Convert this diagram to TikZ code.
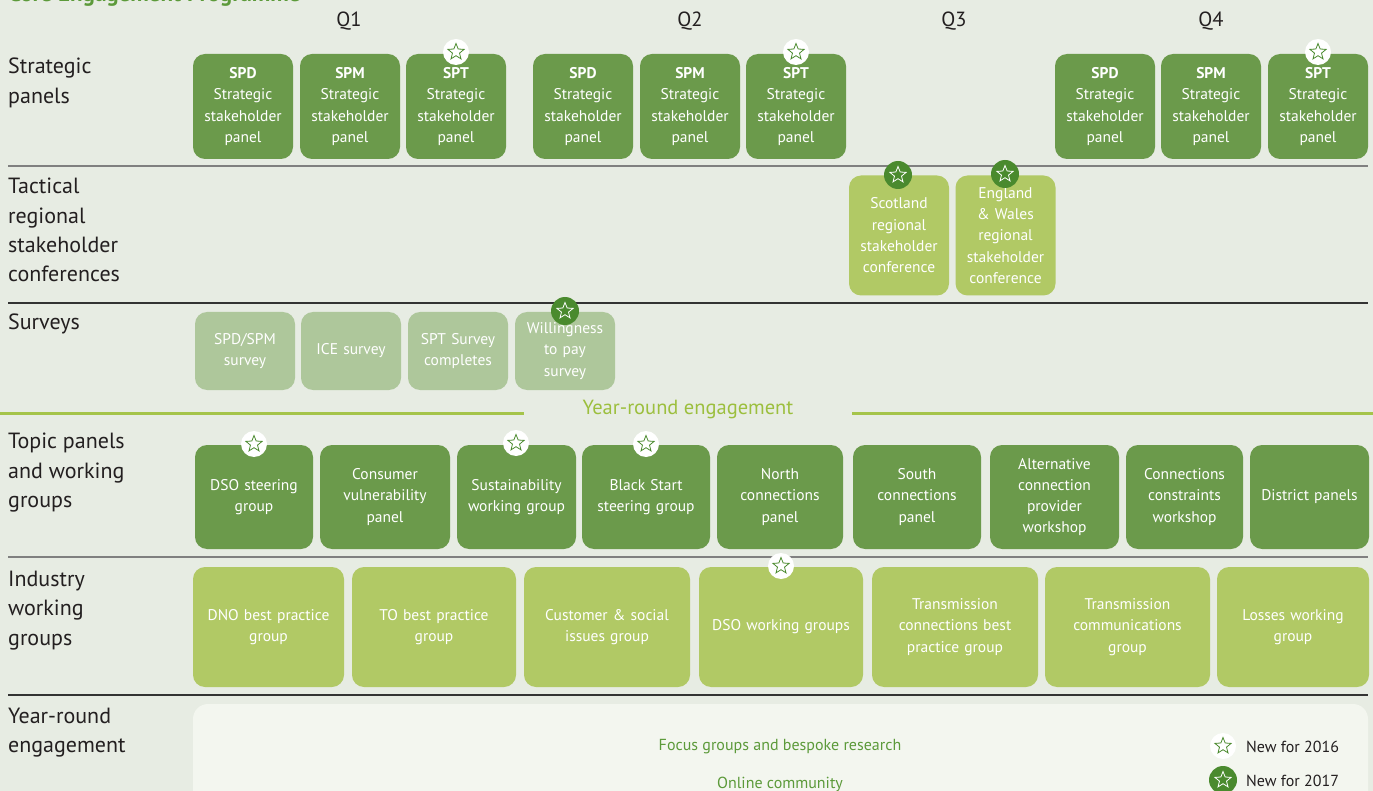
\documentclass[tikz,border=0pt]{standalone}
\usepackage{fontspec}
\setmainfont{PT Sans}
\usepackage{tikz}
\usetikzlibrary{shapes.geometric}
\pgfdeclarelayer{background}
\pgfsetlayers{background,main}
\definecolor{bgcol}{HTML}{E7ECE3}
\definecolor{darkbox}{HTML}{6B9A4B}
\definecolor{limebox}{HTML}{B1C965}
\definecolor{palebox}{HTML}{AEC79B}
\definecolor{stargreen}{HTML}{4A8A2E}
\definecolor{linelime}{HTML}{A5C44A}
\definecolor{limetext}{HTML}{9CBF3E}
\definecolor{textgreen}{HTML}{5C9A3A}
\definecolor{panelcol}{HTML}{F3F6EF}
\definecolor{labeltext}{HTML}{231F20}

\begin{document}
\begin{tikzpicture}[x=1pt,y=1pt,
						boxnode/.style={rounded corners=12pt, text=white, align=center, inner sep=2pt, font=\fontsize{15.5}{21.3}\selectfont},
						stratnode/.style={boxnode, fill=darkbox, text width=96pt, minimum height=105pt},
						tactnode/.style={boxnode, fill=limebox, text width=96pt, minimum height=120pt},
						surveynode/.style={boxnode, fill=palebox, text width=96pt, minimum height=78pt},
						topicnode/.style={boxnode, fill=darkbox, text width=#1, minimum height=104pt},
						industrynode/.style={boxnode, fill=limebox, text width=#1, minimum height=120pt},
						rowlabel/.style={anchor=north west, align=left, inner sep=0pt, text=labeltext, font=\fontsize{22}{29.3}\selectfont},
						qlabel/.style={text=labeltext, font=\fontsize{20.5}{24}\selectfont},
						starwhite/.style={circle, fill=white, minimum size=26pt, inner sep=0pt,
							path picture={\node[star, star points=5, star point ratio=2.3, draw=stargreen, fill=white, line width=0.8pt, minimum size=17pt, inner sep=0pt] at (path picture bounding box.center) {};}},
						stardark/.style={circle, fill=stargreen, minimum size=28pt, inner sep=0pt,
							path picture={\node[star, star points=5, star point ratio=2.3, draw=white, fill=stargreen, line width=0.8pt, minimum size=17pt, inner sep=0pt] at (path picture bounding box.center) {};}},
						greyline/.style={draw=black!50, line width=1.6pt},
						darkline/.style={draw=black!80, line width=1.2pt},
						limeline/.style={draw=linelime, line width=3pt},
						]
						\useasboundingbox (0,0) rectangle (1373,-791);

						%Nodes
						\node[anchor=base west, inner sep=0pt, text=textgreen, font=\fontsize{23}{28}\selectfont\bfseries] (title) at (8,-2) {Core Engagement Programme};
						\node[qlabel]	(q1)	at	(349,-21)	{Q1};
						\node[qlabel]	(q2)	at	(690,-21)	{Q2};
						\node[qlabel]	(q3)	at	(954,-21)	{Q3};
						\node[qlabel]	(q4)	at	(1211,-21)	{Q4};

						\node[rowlabel]	(lstrat)	at	(8,-58)		{Strategic\\panels};
						\node[rowlabel]	(ltact)		at	(8,-178)	{Tactical\\regional\\stakeholder\\conferences};
						\node[rowlabel]	(lsurvey)	at	(8,-314)	{Surveys};
						\node[rowlabel]	(ltopic)	at	(8,-433)	{Topic panels\\and working\\groups};
						\node[rowlabel]	(lindustry)	at	(8,-571)	{Industry\\working\\groups};
						\node[rowlabel]	(lyear)		at	(8,-708)	{Year-round\\engagement};

						\node[stratnode]	(spd1)	at	(243,-106.5)	{\textbf{SPD}\\Strategic\\stakeholder\\panel};
						\node[stratnode]	(spm1)	at	(350,-106.5)	{\textbf{SPM}\\Strategic\\stakeholder\\panel};
						\node[stratnode]	(spt1)	at	(456,-106.5)	{\textbf{SPT}\\Strategic\\stakeholder\\panel};
						\node[stratnode]	(spd2)	at	(583,-106.5)	{\textbf{SPD}\\Strategic\\stakeholder\\panel};
						\node[stratnode]	(spm2)	at	(690,-106.5)	{\textbf{SPM}\\Strategic\\stakeholder\\panel};
						\node[stratnode]	(spt2)	at	(796,-106.5)	{\textbf{SPT}\\Strategic\\stakeholder\\panel};
						\node[stratnode]	(spd4)	at	(1105,-106.5)	{\textbf{SPD}\\Strategic\\stakeholder\\panel};
						\node[stratnode]	(spm4)	at	(1211,-106.5)	{\textbf{SPM}\\Strategic\\stakeholder\\panel};
						\node[stratnode]	(spt4)	at	(1318,-106.5)	{\textbf{SPT}\\Strategic\\stakeholder\\panel};

						\node[tactnode]	(scot)	at	(899,-235.5)	{Scotland\\regional\\stakeholder\\conference};
						\node[tactnode]	(engw)	at	(1005.5,-235.5)	{England\\\& Wales\\regional\\stakeholder\\conference};

						\node[surveynode]	(sv1)	at	(245,-351)	{SPD/SPM\\survey};
						\node[surveynode]	(sv2)	at	(351,-351)	{ICE survey};
						\node[surveynode]	(sv3)	at	(458,-351)	{SPT Survey\\completes};
						\node[surveynode]	(sv4)	at	(565,-351)	{Willingness\\to pay\\survey};

						\node[font=\fontsize{20.5}{24}\selectfont, text=limetext]	(yrlabel)	at	(688,-409)	{Year-round engagement};

						\node[topicnode=114pt]	(tp1)	at	(254,-497)	{DSO steering\\group};
						\node[topicnode=126pt]	(tp2)	at	(385,-497)	{Consumer\\vulnerability\\panel};
						\node[topicnode=115pt]	(tp3)	at	(516.5,-497)	{Sustainability\\working group};
						\node[topicnode=124pt]	(tp4)	at	(646,-497)	{Black Start\\steering group};
						\node[topicnode=122pt]	(tp5)	at	(780,-497)	{North\\connections\\panel};
						\node[topicnode=124pt]	(tp6)	at	(917,-497)	{South\\connections\\panel};
						\node[topicnode=125pt]	(tp7)	at	(1054.5,-497)	{Alternative\\connection\\provider\\workshop};
						\node[topicnode=113pt]	(tp8)	at	(1184.5,-497)	{Connections\\constraints\\workshop};
						\node[topicnode=115pt]	(tp9)	at	(1309.5,-497)	{District panels};

						\node[industrynode=147pt]	(iw1)	at	(268.5,-627)	{DNO best practice\\group};
						\node[industrynode=160pt]	(iw2)	at	(434,-627)	{TO best practice\\group};
						\node[industrynode=162pt]	(iw3)	at	(607,-627)	{Customer \& social\\issues group};
						\node[industrynode=160pt]	(iw4)	at	(781,-627)	{DSO working groups};
						\node[industrynode=162pt]	(iw5)	at	(955,-627)	{Transmission\\connections best\\practice group};
						\node[industrynode=161pt]	(iw6)	at	(1127.5,-627)	{Transmission\\communications\\group};
						\node[industrynode=148pt]	(iw7)	at	(1293,-627)	{Losses working\\group};

						\node[fill=panelcol, rounded corners=15pt, minimum width=1175pt, minimum height=130pt, inner sep=0pt] (yrpanel) at (780.5,-769) {};
						\node[text=textgreen, font=\fontsize{16}{18}\selectfont]	(focus)		at	(780,-747)	{Focus groups and bespoke research};
						\node[text=textgreen, font=\fontsize{16}{18}\selectfont]	(online)	at	(780,-784)	{Online community};

						%Stars
						\node[starwhite]	(st1)	at	(456,-52)	{};
						\node[starwhite]	(st2)	at	(796,-52)	{};
						\node[starwhite]	(st3)	at	(1318,-52)	{};
						\node[stardark]		(st4)	at	(898,-175)	{};
						\node[stardark]		(st5)	at	(1005,-174)	{};
						\node[stardark]		(st6)	at	(565,-311)	{};
						\node[starwhite]	(st7)	at	(254,-444)	{};
						\node[starwhite]	(st8)	at	(516,-443)	{};
						\node[starwhite]	(st9)	at	(646,-444)	{};
						\node[starwhite]	(st10)	at	(781,-566)	{};

						%Legend
						\node[starwhite]	(key16)	at	(1223,-746)	{};
						\node[stardark]		(key17)	at	(1223,-780)	{};
						\node[anchor=west, inner sep=0pt, text=labeltext, font=\fontsize{16}{18}\selectfont]	(new16)	at	(1246,-747)	{New for 2016};
						\node[anchor=west, inner sep=0pt, text=labeltext, font=\fontsize{16}{18}\selectfont]	(new17)	at	(1246,-781)	{New for 2017};

						\begin{pgfonlayer}{background}
						\fill[bgcol] (0,0) rectangle (1373,-791);
						%Lines
						\draw[greyline] (8,-166) -- (1368,-166);
						\draw[darkline] (8,-303) -- (1368,-303);
						\draw[limeline] (0,-413) -- (524,-413);
						\draw[limeline] (852,-413) -- (1373,-413);
						\draw[greyline] (8,-557) -- (1368,-557);
						\draw[darkline] (8,-695) -- (1368,-695);
						\end{pgfonlayer}
					\end{tikzpicture}
\end{document}
